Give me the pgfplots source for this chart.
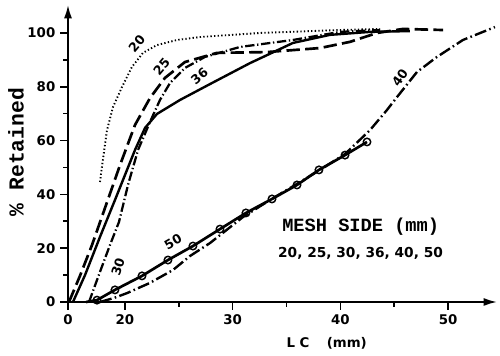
\documentclass[border=0pt]{standalone}
\usepackage{fontspec}
\usepackage{pgfplots}
\pgfplotsset{compat=1.18}
\usetikzlibrary{arrows.meta}
\newfontfamily\dvb{DejaVu Sans}
\newfontfamily\mono{Liberation Mono}
\begin{document}
\begin{tikzpicture}
\path[use as bounding box] (0,0) rectangle (375pt,267pt);
\begin{axis}[
 at={(51pt,40.5pt)}, anchor=south west,
 scale only axis, width=321.75pt, height=222.75pt,
 xmin=14.71, xmax=54.54, ymin=0, ymax=110.4,
 axis lines=left,
 axis line style={line width=1.4pt, -{Latex[length=10pt,width=6pt]}},
 xtick={14.71,20,30,40,50}, xticklabels={0,20,30,40,50},
 minor xtick={25,35,45},
 ytick={0,20,40,60,80,100}, yticklabels={0,20,40,60,80,100},
 minor ytick={10,30,50,70,90},
 tick align=outside,
 major tick length=6pt, minor tick length=3.5pt,
 every tick/.style={black, line width=1.2pt},
 tick label style={font=\dvb\bfseries\fontsize{10}{10}\selectfont},
 /pgf/number format/assume math mode=true,
 clip=false,
]
% 20 mesh: dotted
\addplot[black, line width=1.4pt, dash pattern=on 1pt off 1.7pt] coordinates {
(17.68,44.6)(17.86,50.2)(18.33,63.9)(18.89,72.5)(19.72,79.9)(20.65,87.4)
(21.67,92.6)(22.97,95.5)(24.83,97.4)(26.96,98.5)(32.53,100.0)(39.96,101.1)(43.68,101.5)};
% 25 mesh: long dashed
\addplot[black, line width=2pt, dash pattern=on 10pt off 4pt] coordinates {
(14.80,0)(15.82,9.7)(16.94,21.2)(18.14,34.9)(19.54,50.9)(20.93,65.8)(22.32,75.8)
(23.71,83.3)(25.57,89.2)(28.54,92.6)(33.18,92.9)(38.11,94.4)(40.89,96.7)
(43.40,100.0)(45.81,101.5)(49.53,101.1)};
% 30 mesh: dash-dot
\addplot[black, line width=1.7pt, dash pattern=on 7pt off 2pt on 1pt off 2pt] coordinates {
(16.66,0)(17.68,11.2)(18.61,21.2)(19.44,29.7)(20.28,43.5)(21.21,56.5)(22.32,66.9)
(23.25,75.1)(24.18,81.4)(25.57,87.0)(27.43,91.1)(30.68,94.8)(35.60,97.4)
(39.96,100.4)(43.68,101.1)};
% 36 mesh: solid
\addplot[black, line width=1.8pt] coordinates {
(15.17,0)(16.29,10.0)(17.68,24.2)(19.07,37.9)(20.0,47.2)(20.93,56.5)(21.86,64.7)
(22.97,69.9)(25.11,75.1)(27.89,81.0)(31.61,88.8)(35.60,96.3)(39.03,99.3)
(42.75,100.4)(46.46,100.7)};
% 40 mesh: dash-dot
\addplot[black, line width=1.8pt, dash pattern=on 9pt off 2.5pt on 1.2pt off 2.5pt] coordinates {
(17.68,0)(18.98,1.5)(20.19,3.3)(22.32,7.1)(24.46,11.9)(26.04,17.1)(27.89,21.9)
(30.96,31.6)(33.46,37.9)(35.97,43.9)(38.11,49.1)(40.43,55.0)(42.75,63.9)
(44.33,71.4)(45.26,76.2)(47.11,85.5)(48.97,91.1)(51.38,97.4)(54.35,102.2)};
% 50 mesh: solid with circles
\addplot[black, line width=2pt, mark=o, mark size=2.8pt, mark indices={2,...,13},
 mark options={solid, fill=white, line width=1.1pt}] coordinates {
(16.38,0)(17.40,0.7)(19.07,4.5)(21.58,9.7)(23.99,15.6)(26.31,20.8)(28.82,27.1)
(31.23,33.1)(33.65,38.3)(35.97,43.5)(38.01,49.1)(40.43,54.6)(42.47,59.5)};
% curve labels
\tikzset{cl/.style={font=\dvb\bfseries\fontsize{9.5}{10}\selectfont, inner sep=0pt}}
\node[cl, rotate=50] at (axis cs:21.1,96.0) {20};
\node[cl, rotate=50] at (axis cs:23.4,87.6) {25};
\node[cl, rotate=40] at (axis cs:26.9,84.0) {36};
\node[cl, rotate=72] at (axis cs:19.35,13.0) {30};
\node[cl, rotate=30] at (axis cs:24.46,22.3) {50};
\node[cl, rotate=55] at (axis cs:45.53,83.3) {40};
\node[anchor=west, inner sep=0pt, font=\mono\bfseries\fontsize{14}{14}\selectfont] at (axis cs:34.58,27.9) {MESH SIDE (mm)};
\node[anchor=west, inner sep=0pt, font=\dvb\bfseries\fontsize{10.3}{11}\selectfont] at (axis cs:34.2,18.2) {20, 25, 30, 36, 40, 50};
\end{axis}
\node[rotate=90, inner sep=0pt, font=\mono\bfseries\fontsize{16}{16}\selectfont] at (12pt,153pt) {\% Retained};
\node[inner sep=0pt, font=\dvb\bfseries\fontsize{10}{10}\selectfont] at (245pt,9.75pt) {L C\hspace{1.3em}(mm)};
\end{tikzpicture}
\end{document}
